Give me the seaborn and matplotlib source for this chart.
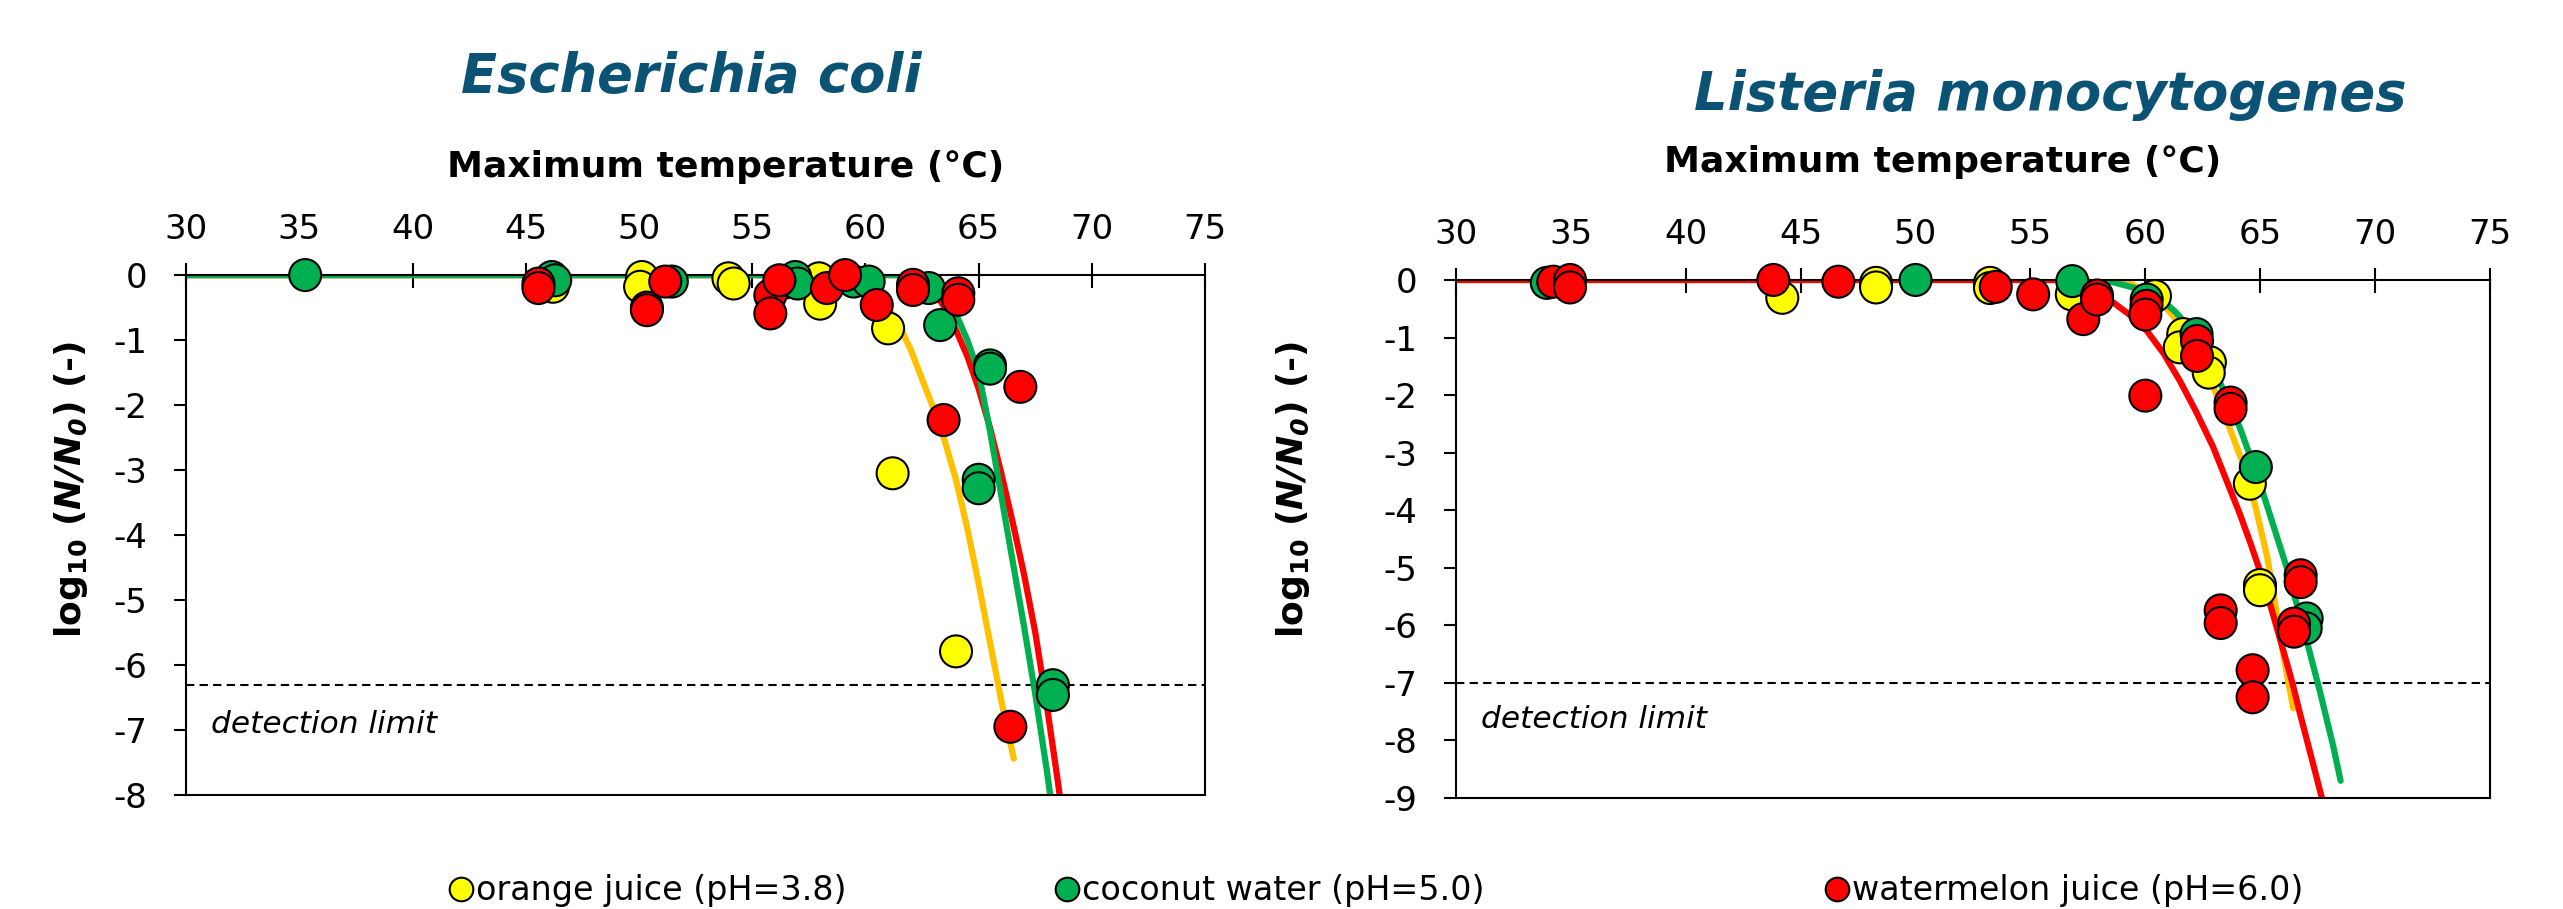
import pandas as pd
import numpy as np
import matplotlib
matplotlib.use('Agg')
import matplotlib.pyplot as plt
import seaborn as sns
from matplotlib.lines import Line2D

# ---- measured points: Escherichia coli ----
oj_ec_T = [46.2, 50.13, 50.05, 53.95, 54.18, 57.95, 58.0, 61.0, 61.2, 64.0]
oj_ec_y = [-0.18, -0.03, -0.18, -0.05, -0.13, -0.05, -0.44, -0.82, -3.05, -5.79]
cw_ec_T = [35.26, 46.15, 46.3, 51.45, 56.3, 56.9, 57.0, 59.48, 60.14, 62.8, 63.3, 65.5, 65.5, 65.0, 65.0, 68.28, 68.28]
cw_ec_y = [0.0, -0.03, -0.08, -0.10, -0.13, -0.03, -0.13, -0.10, -0.10, -0.2, -0.77, -1.39, -1.44, -3.15, -3.28, -6.31, -6.46]
wm_ec_T = [45.56, 45.56, 50.35, 50.35, 51.16, 55.8, 55.8, 56.2, 58.3, 59.1, 60.5, 62.1, 62.1, 63.45, 64.1, 64.1, 66.84, 66.4]
wm_ec_y = [-0.13, -0.2, -0.5, -0.54, -0.10, -0.31, -0.59, -0.08, -0.2, 0.0, -0.46, -0.15, -0.23, -2.23, -0.28, -0.38, -1.72, -6.95]

# ---- measured points: Listeria monocytogenes ----
oj_lm_T = [44.2, 48.28, 48.28, 53.24, 53.24, 56.8, 60.42, 61.65, 61.5, 62.81, 62.76, 64.55, 64.99, 64.99]
oj_lm_y = [-0.31, -0.05, -0.13, -0.05, -0.14, -0.25, -0.28, -0.94, -1.17, -1.43, -1.61, -3.54, -5.30, -5.39]
cw_lm_T = [33.95, 50.0, 56.82, 60.06, 62.23, 64.81, 67.02, 66.98]
cw_lm_y = [-0.05, 0.0, -0.02, -0.34, -0.94, -3.25, -5.88, -6.05]
wm_lm_T = [34.23, 34.96, 34.96, 43.81, 46.64, 53.49, 55.12, 57.3, 57.9, 57.9, 60.05, 60.0, 60.0,
           62.25, 62.25, 63.71, 63.71, 66.76, 66.76, 63.28, 63.28, 66.47, 66.47, 64.67, 64.67]
wm_lm_y = [-0.03, 0.0, -0.13, 0.0, -0.03, -0.12, -0.25, -0.68, -0.27, -0.34, -0.45, -0.6, -2.01,
           -1.06, -1.32, -2.13, -2.24, -5.13, -5.25, -5.74, -5.96, -5.97, -6.11, -6.78, -7.25]

# ---- fitted curves ----
oj_ec_fit_T = [30, 58, 59, 60, 60.5, 61, 61.5, 62, 62.5, 63, 63.5, 64, 64.5, 65, 65.5, 66, 66.55]
oj_ec_fit_y = [0, 0, -0.03, -0.15, -0.3, -0.5, -0.78, -1.15, -1.6, -2.05, -2.55, -3.15, -3.9, -4.75, -5.65, -6.55, -7.44]
cw_ec_fit_T = [30, 62.5, 63.0, 63.5, 64.0, 64.5, 65.0, 65.5, 66.0, 66.5, 67.0, 67.5, 68.0, 68.2]
cw_ec_fit_y = [0, 0, -0.1, -0.3, -0.6, -1.0, -1.5, -2.4, -3.4, -4.4, -5.4, -6.45, -7.6, -8.1]
wm_ec_fit_T = [30, 62.0, 62.5, 63.0, 63.5, 64.0, 64.5, 65.0, 65.5, 66.0, 66.5, 67.0, 67.5, 68.0, 68.5, 68.65]
wm_ec_fit_y = [0, 0, -0.08, -0.25, -0.5, -0.85, -1.25, -1.75, -2.35, -3.05, -3.8, -4.6, -5.5, -6.6, -7.8, -8.2]

oj_lm_fit_T = [30, 57.5, 58.5, 59.46, 60.2, 60.9, 61.4, 61.94, 62.45, 62.95, 63.6, 64.26, 64.8, 65.3, 65.7, 66.0, 66.44]
oj_lm_fit_y = [0, 0, -0.02, -0.08, -0.25, -0.48, -0.72, -1.0, -1.42, -1.85, -2.5, -3.2, -3.95, -4.8, -5.75, -6.5, -7.44]
cw_lm_fit_T = [30, 57.8, 58.6, 59.46, 60.1, 60.77, 61.3, 61.79, 62.4, 62.95, 63.5, 64.11, 64.6, 65.13, 65.6,
               66.15, 67.02, 67.6, 68.18, 68.5]
cw_lm_fit_y = [0, 0, -0.04, -0.13, -0.23, -0.36, -0.55, -0.77, -1.13, -1.52, -2.0, -2.56, -3.1, -3.71, -4.3,
               -4.99, -6.26, -7.15, -8.1, -8.7]
wm_lm_fit_T = [30, 56.5, 57.5, 58.6, 59.3, 60.06, 60.8, 61.5, 62.2, 62.95, 63.5, 64.11, 64.6, 65.13, 65.55,
               66.0, 66.4, 66.73, 67.2, 67.75]
wm_lm_fit_y = [0, 0, -0.1, -0.39, -0.6, -0.88, -1.28, -1.75, -2.28, -2.9, -3.45, -4.06, -4.6, -5.22, -5.8,
               -6.43, -7.0, -7.53, -8.25, -9.1]

det_limit_ec = -6.3
det_limit_lm = -7.0

juices = ['orange juice (pH=3.8)', 'coconut water (pH=5.0)', 'watermelon juice (pH=6.0)']
marker_colors = dict(zip(juices, ['#FFFF00', '#00B050', '#FF0000']))
line_colors = dict(zip(juices, ['#FFC000', '#00B050', '#FF0000']))


def frame(pairs):
    parts = []
    for juice, (t, y) in zip(juices, pairs):
        parts.append(pd.DataFrame({'T': t, 'logN': y, 'juice': juice}))
    return pd.concat(parts, ignore_index=True)


pts_ec = frame([(oj_ec_T, oj_ec_y), (cw_ec_T, cw_ec_y), (wm_ec_T, wm_ec_y)])
pts_lm = frame([(oj_lm_T, oj_lm_y), (cw_lm_T, cw_lm_y), (wm_lm_T, wm_lm_y)])
fit_ec = frame([(oj_ec_fit_T, oj_ec_fit_y), (cw_ec_fit_T, cw_ec_fit_y), (wm_ec_fit_T, wm_ec_fit_y)])
fit_lm = frame([(oj_lm_fit_T, oj_lm_fit_y), (cw_lm_fit_T, cw_lm_fit_y), (wm_lm_fit_T, wm_lm_fit_y)])

sns.set_style('ticks')
plt.rcParams['font.family'] = ['DejaVu Sans']
plt.rcParams['axes.unicode_minus'] = False
plt.rcParams['mathtext.fontset'] = 'dejavusans'
for key in ['text.color', 'axes.labelcolor', 'xtick.color', 'ytick.color', 'axes.edgecolor']:
    plt.rcParams[key] = 'black'

fig = plt.figure(figsize=(25.63, 9.09), dpi=100)
ax1 = fig.add_axes([0.0726, 0.1254, 0.3976, 0.572])
ax2 = fig.add_axes([0.5681, 0.1221, 0.4034, 0.5699])


def draw(ax, pts, fit, line_order, ymin, det, det_text_y, xlab_pos, ylab_pos):
    ax.axhline(det, color='black', lw=1.5, ls=(0, (4, 2.5)), zorder=1)
    sns.lineplot(data=fit, x='T', y='logN', hue='juice', hue_order=line_order,
                 palette=line_colors, sort=False, estimator=None, linewidth=4.5,
                 legend=False, ax=ax, zorder=2)
    sns.scatterplot(data=pts, x='T', y='logN', hue='juice', palette=marker_colors,
                    s=530, edgecolor='black', linewidth=1.5, legend=False, ax=ax,
                    zorder=3, clip_on=False)
    ax.set_xlim(30, 75)
    ax.set_ylim(ymin, 0)
    ax.set_xticks(range(30, 80, 5))
    ax.set_yticks(range(ymin, 1))
    ax.xaxis.tick_top()
    ax.xaxis.set_label_position('top')
    ax.tick_params(axis='x', direction='inout', length=18, width=1.5, pad=12,
                   labelsize=24.5, bottom=False, top=True)
    ax.tick_params(axis='y', direction='out', length=9, width=1.5, pad=19,
                   labelsize=24.5, right=False)
    for sp in ax.spines.values():
        sp.set_visible(True)
        sp.set_linewidth(1.5)
        sp.set_color('black')
    ax.set_xlabel('Maximum temperature (°C)', fontsize=26, fontweight='bold')
    ax.xaxis.set_label_coords(*xlab_pos)
    ax.xaxis.label.set_verticalalignment('baseline')
    ax.set_ylabel(r'log$_{\mathbf{10}}$ ($\mathbfit{N/N_0}$) (-)', fontsize=26, fontweight='bold')
    ax.yaxis.set_label_coords(*ylab_pos)
    ax.text(31.1, det_text_y, 'detection limit', style='italic', fontsize=22.5, va='center')


draw(ax1, pts_ec, fit_ec, [juices[0], juices[2], juices[1]], -8, det_limit_ec, -6.92,
     (0.529, 1.188), (-0.094, 0.587))
draw(ax2, pts_lm, fit_lm, [juices[0], juices[1], juices[2]], -9, det_limit_lm, -7.63,
     (0.471, 1.208), (-0.139, 0.595))

title_color = '#0B5375'
fig.text(691 / 2563, 1 - 92 / 909, 'Escherichia coli', fontsize=38, fontweight='bold',
         style='italic', color=title_color, ha='center', va='baseline')
fig.text(2050 / 2563, 1 - 110 / 909, 'Listeria monocytogenes', fontsize=38, fontweight='bold',
         style='italic', color=title_color, ha='center', va='baseline')

fs_px = 24 * 100 / 72
for juice, xc in zip(juices, [461, 1067, 1837]):
    h = Line2D([], [], ls='none', marker='o', markersize=17,
               markerfacecolor=marker_colors[juice], markeredgecolor='black', markeredgewidth=1.5)
    fig.legend([h], [juice], loc='center left',
               bbox_to_anchor=((xc - 0.7 * fs_px) / 2563, 0.02),
               frameon=False, fontsize=24, handlelength=0.6, handletextpad=0.15,
               borderpad=0.4, borderaxespad=0)

fig.savefig('out.png', dpi=100)
